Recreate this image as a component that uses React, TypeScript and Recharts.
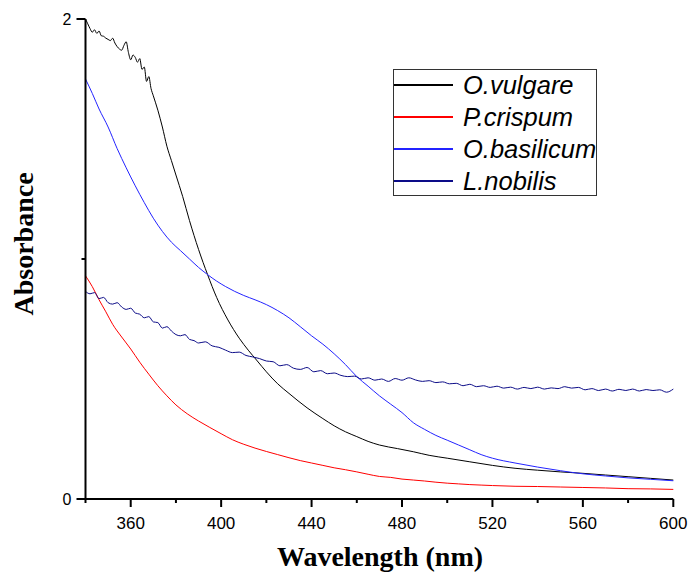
import { Line, LineChart, XAxis, YAxis } from "recharts"

// UV-vis absorbance spectra, [wavelength nm, absorbance]
const vulgare: [number, number][] = [
  [340, 2.0], [341, 1.98], [342, 1.96], [343, 1.945], [344, 1.955], [345, 1.94], [346, 1.95], [347, 1.93],
  [348, 1.928], [349, 1.92], [350, 1.915], [351, 1.91], [352, 1.92], [353, 1.9], [354, 1.885], [355, 1.875],
  [356, 1.87], [357, 1.89], [358, 1.905], [359, 1.86], [360, 1.83], [361, 1.85], [362, 1.84], [363, 1.82],
  [364, 1.835], [365, 1.79], [366, 1.8], [367, 1.74], [368, 1.76], [369, 1.71], [370, 1.68], [372, 1.62],
  [374, 1.55], [376, 1.47], [378, 1.41], [380, 1.35], [383, 1.26], [386, 1.16], [390, 1.04], [394, 0.935],
  [398, 0.84], [403, 0.746], [408, 0.67], [412, 0.62], [416, 0.575], [420, 0.53], [425, 0.48], [430, 0.44],
  [438, 0.38], [445, 0.335], [450, 0.305], [455, 0.28], [460, 0.26], [465, 0.24], [470, 0.225], [478, 0.21],
  [485, 0.197], [492, 0.182], [500, 0.17], [510, 0.155], [520, 0.14], [530, 0.128], [540, 0.12], [550, 0.113],
  [560, 0.107], [570, 0.1], [580, 0.093], [590, 0.086], [600, 0.079],
]

const crispum: [number, number][] = [
  [340, 0.93], [343, 0.885], [346, 0.83], [349, 0.78], [352, 0.728], [356, 0.675], [360, 0.625], [364, 0.57],
  [368, 0.52], [372, 0.472], [376, 0.43], [380, 0.392], [385, 0.355], [390, 0.325], [395, 0.298], [400, 0.272],
  [405, 0.247], [410, 0.228], [415, 0.212], [420, 0.198], [425, 0.185], [430, 0.172], [435, 0.16], [440, 0.15],
  [445, 0.14], [450, 0.13], [455, 0.122], [460, 0.113], [465, 0.103], [470, 0.094], [475, 0.09], [480, 0.083],
  [485, 0.079], [490, 0.075], [495, 0.07], [500, 0.066], [505, 0.063], [510, 0.06], [515, 0.058], [520, 0.056],
  [530, 0.053], [540, 0.052], [550, 0.05], [560, 0.048], [570, 0.046], [580, 0.043], [590, 0.042], [600, 0.04],
]

const basilicum: [number, number][] = [
  [340, 1.75], [343, 1.69], [346, 1.625], [350, 1.55], [354, 1.46], [358, 1.38], [362, 1.305], [366, 1.235],
  [370, 1.17], [374, 1.115], [378, 1.07], [382, 1.035], [386, 1.0], [390, 0.965], [394, 0.935], [398, 0.908],
  [402, 0.885], [406, 0.865], [410, 0.848], [415, 0.83], [420, 0.81], [425, 0.785], [430, 0.755], [435, 0.718],
  [440, 0.68], [445, 0.645], [450, 0.605], [455, 0.56], [460, 0.51], [465, 0.47], [470, 0.43], [475, 0.395],
  [480, 0.36], [485, 0.318], [490, 0.29], [495, 0.265], [500, 0.245], [505, 0.225], [510, 0.205], [515, 0.185],
  [520, 0.17], [530, 0.15], [540, 0.133], [550, 0.118], [560, 0.105], [570, 0.096], [580, 0.088], [590, 0.082],
  [600, 0.076],
]

const nobilis: [number, number][] = [
  [340, 0.865], [342, 0.855], [344, 0.86], [346, 0.835], [348, 0.84], [350, 0.818], [352, 0.812], [354, 0.818],
  [356, 0.8], [358, 0.79], [360, 0.795], [362, 0.775], [364, 0.77], [366, 0.755], [368, 0.76], [370, 0.738],
  [372, 0.735], [374, 0.712], [376, 0.718], [378, 0.7], [380, 0.685], [382, 0.68], [384, 0.685], [386, 0.665],
  [388, 0.66], [390, 0.65], [393, 0.655], [396, 0.638], [399, 0.632], [402, 0.62], [405, 0.61], [408, 0.612],
  [411, 0.598], [414, 0.592], [417, 0.585], [420, 0.575], [423, 0.572], [426, 0.555], [429, 0.56], [432, 0.545],
  [435, 0.54], [438, 0.548], [441, 0.53], [444, 0.535], [447, 0.522], [450, 0.525], [453, 0.515], [456, 0.51],
  [459, 0.512], [462, 0.5], [465, 0.505], [468, 0.495], [471, 0.5], [474, 0.49], [477, 0.502], [480, 0.495],
  [483, 0.505], [486, 0.496], [489, 0.49], [492, 0.493], [495, 0.485], [498, 0.488], [501, 0.48], [504, 0.482],
  [507, 0.472], [510, 0.478], [513, 0.468], [516, 0.472], [519, 0.465], [522, 0.47], [525, 0.462], [528, 0.466],
  [531, 0.458], [534, 0.465], [537, 0.46], [540, 0.466], [543, 0.458], [546, 0.463], [549, 0.46], [552, 0.468],
  [555, 0.462], [558, 0.465], [561, 0.455], [564, 0.46], [567, 0.452], [570, 0.458], [573, 0.45], [576, 0.457],
  [579, 0.452], [582, 0.458], [585, 0.45], [588, 0.456], [591, 0.452], [594, 0.455], [597, 0.445], [600, 0.458],
]

const xTicks = [340, 360, 380, 400, 420, 440, 460, 480, 500, 520, 540, 560, 580, 600]
const xLabels = [360, 400, 440, 480, 520, 560, 600]
const yTicks = [0, 1, 2]
const yLabels = [0, 2]

const series = [
  { name: "O.vulgare", data: vulgare, color: "#000000" },
  { name: "P.crispum", data: crispum, color: "#ff0000" },
  { name: "O.basilicum", data: basilicum, color: "#2323ff" },
  { name: "L.nobilis", data: nobilis, color: "#0c0c88" },
]

const sans = "'Liberation Sans', Arial, sans-serif"
const serif = "'Liberation Serif', 'Times New Roman', serif"

function XTick({ x, y, payload }: any) {
  const major = xLabels.includes(payload.value)
  return (
    <g>
      <line x1={x} x2={x} y1={y} y2={y + (major ? 8 : 4)} stroke="#000" strokeWidth={2} />
      {major && (
        <text x={x} y={y + 30} textAnchor="middle" fontSize={17} fontFamily={sans} fill="#000">
          {payload.value}
        </text>
      )}
    </g>
  )
}

function YTick({ x, y, payload }: any) {
  const major = yLabels.includes(payload.value)
  return (
    <g>
      <line x1={x - (major ? 9 : 4)} x2={x} y1={y} y2={y} stroke="#000" strokeWidth={2} />
      {major && (
        <text x={x - 14} y={y + 6} textAnchor="end" fontSize={16} fontFamily={sans} fill="#000">
          {payload.value}
        </text>
      )}
    </g>
  )
}

export default function App() {
  return (
    <div style={{ position: "absolute", left: 0, top: 0, width: 690, height: 573, background: "#fff", overflow: "hidden" }}>
      <LineChart width={690} height={573} margin={{ top: 19, right: 16.7, bottom: 44, left: 25.5 }}>
        <XAxis
          type="number"
          dataKey="nm"
          domain={[340, 600]}
          ticks={xTicks}
          interval={0}
          height={30}
          tickSize={0}
          tickMargin={0}
          tickLine={false}
          axisLine={{ stroke: "#000", strokeWidth: 2 }}
          tick={<XTick />}
        />
        <YAxis
          type="number"
          domain={[0, 2]}
          ticks={yTicks}
          interval={0}
          width={60}
          tickSize={0}
          tickMargin={0}
          tickLine={false}
          axisLine={{ stroke: "#000", strokeWidth: 2 }}
          tick={<YTick />}
        />
        {series.map((s) => (
          <Line
            key={s.name}
            data={s.data.map(([nm, abs]) => ({ nm, abs }))}
            dataKey="abs"
            type="monotone"
            stroke={s.color}
            strokeWidth={1}
            dot={false}
            activeDot={false}
            isAnimationActive={false}
          />
        ))}
      </LineChart>

      {/* legend box */}
      <div
        style={{
          position: "absolute",
          left: 393,
          top: 69,
          width: 204,
          height: 127,
          border: "1px solid #333",
          boxSizing: "border-box",
          background: "#fff",
          overflow: "hidden",
        }}
      >
        {series.map((s, i) => (
          <div
            key={s.name}
            style={{ position: "absolute", left: 0, top: i * 32 - 1, height: 32, display: "flex", alignItems: "center" }}
          >
            <div style={{ width: 59, height: 2, background: s.color }} />
            <span
              style={{
                marginLeft: 10,
                fontFamily: sans,
                fontStyle: "italic",
                fontSize: 25.5,
                lineHeight: "32px",
                color: "#000",
                whiteSpace: "nowrap",
              }}
            >
              {s.name}
            </span>
          </div>
        ))}
      </div>

      <div
        style={{
          position: "absolute",
          left: 0,
          width: 760,
          top: 541,
          textAlign: "center",
          fontFamily: serif,
          fontWeight: "bold",
          fontSize: 28,
          lineHeight: "32px",
          color: "#000",
        }}
      >
        Wavelength (nm)
      </div>
      <div
        style={{
          position: "absolute",
          left: 24,
          top: 244,
          transform: "translate(-50%, -50%) rotate(-90deg)",
          fontFamily: serif,
          fontWeight: "bold",
          fontSize: 28,
          whiteSpace: "nowrap",
          color: "#000",
        }}
      >
        Absorbance
      </div>
    </div>
  )
}
